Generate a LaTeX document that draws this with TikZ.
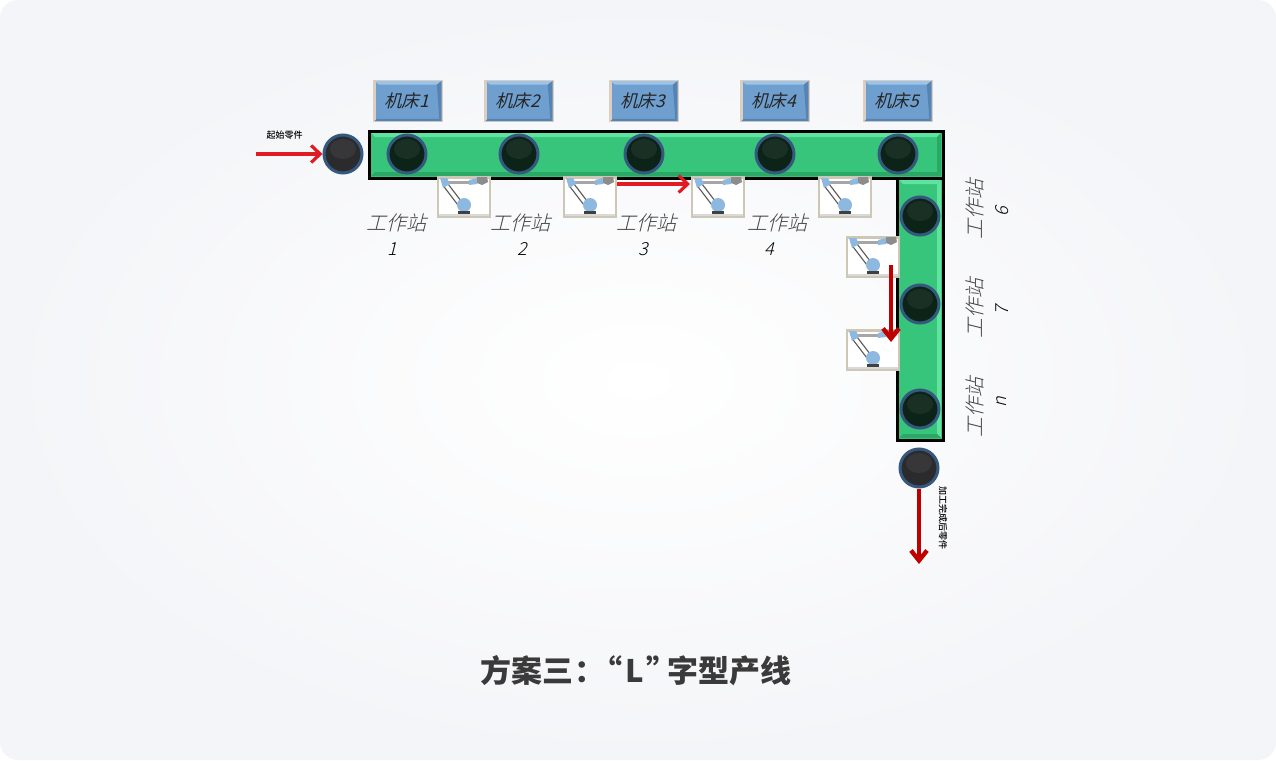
\documentclass[tikz,border=0pt]{standalone}
\usepackage{fontspec}
\usepackage{xcolor}
\usetikzlibrary{arrows.meta}
\newfontfamily\cjk{Noto Sans CJK SC}
\newfontfamily\cjkmedium{Noto Sans CJK SC Medium}
\newfontfamily\cjkslant[FakeSlant=0.25]{Noto Sans CJK SC}
\newfontfamily\cjkthin[FakeSlant=0.25]{Noto Sans CJK SC Light}
\definecolor{cardedge}{HTML}{F4F5F8}
\definecolor{beltgreen}{HTML}{37C57C}
\definecolor{beltlight}{HTML}{5FE39E}
\definecolor{beltdark}{HTML}{2CA866}
\definecolor{rimblue}{HTML}{35587F}
\definecolor{framebeige}{HTML}{DCCFC2}
\definecolor{framegrey}{HTML}{CDC7B6}
\definecolor{plateblue}{HTML}{6F9FCF}
\definecolor{platelight}{HTML}{9CC3E8}
\definecolor{platedark}{HTML}{5583B4}
\definecolor{armblue}{HTML}{8DB8DF}
\definecolor{linered}{HTML}{E01B22}
\definecolor{deepred}{HTML}{C00000}
\definecolor{titlegrey}{HTML}{3A3A3A}
\definecolor{lampgreen}{HTML}{0C2418}
\definecolor{lampgrey}{HTML}{2B2B2D}
\tikzset{
    lamp/.style={circle,
    draw=rimblue,
    line width=3pt,
    minimum size=38,
    inner sep=0pt,
    fill=#1,
    path picture={\fill[white,opacity=0.06] ([yshift=5]path picture bounding box.center) ellipse (13 and 10);}},
    machine/.style={draw=framebeige,
    line width=2.6pt,
    fill=plateblue,
    minimum width=67,
    minimum height=40,
    inner sep=0pt,
    text=black!85,
    font=\cjkslant\fontsize{17.5}{18}\selectfont},
    robotbox/.style={draw=framegrey,
    line width=2.6pt,
    fill=white,
    minimum width=52,
    minimum height=39,
    inner sep=0pt},
    stationtext/.style={text=black!75,
    inner sep=0pt,
    font=\cjkthin\fontsize{20}{20}\selectfont},
    stationnum/.style={text=black,
    inner sep=0pt,
    font=\cjkthin\fontsize{18}{18}\selectfont},
    smalltext/.style={inner sep=0pt,
    font=\cjkmedium\fontsize{9}{9}\selectfont},
    flow/.style={line width=3.4pt,-{Straight Barb[length=9,width=17,line width=3.2pt]}},
    deepflow/.style={line width=3.6pt,deepred,-{Straight Barb[length=10,width=16,line width=4.4pt]}},
    robot/.pic={
        \draw[black!35,line width=3pt] (-20,-15) -- (8,-15);
        \draw[black!65,line width=6pt] (-19,-13) -- (-3,8);
        \draw[white,line width=3.5pt] (-19,-13) -- (-3,8);
        \fill[armblue] (-24,-19) -- (-17,-19) -- (-14,-13) -- (-21,-9) -- cycle;
        \fill[armblue] (5,-17) -- (13,-19) -- (13,-13) -- (5,-12) -- cycle;
        \fill[black!45] (13,-20) -- (23,-20) -- (24,-15) -- (18,-12) -- (13,-14) -- cycle;
        \fill[armblue] (0,8) circle (7);
        \fill[black!75] (-6,14) rectangle (6,17);
        \draw[black!15,line width=1.5pt] (-25,18) -- (25,18);
    }
}
\begin{document}
\begin{tikzpicture}[x=1pt,y=-1pt]
    \useasboundingbox (0,0) rectangle (1276,760);
    \fill[white] (0,0) rectangle (1276,760);
    \shade[rounded corners=18,inner color=white,outer color=cardedge] (0,0) rectangle (1276,760);

    \draw[black,line width=3pt,fill=beltgreen] (369,131) rectangle (943,178);
    \fill[beltlight] (371,133) -- (941,133) -- (937,137) -- (375,137) -- cycle;
    \fill[beltdark] (371,176) -- (941,176) -- (937,172) -- (375,172) -- cycle;
    \fill[beltdark] (941,133) -- (941,176) -- (937,172) -- (937,137) -- cycle;
    \draw[black,line width=3pt,fill=beltgreen] (897,178) rectangle (943,440);
    \fill[beltlight] (899,180) -- (941,180) -- (937,184) -- (903,184) -- cycle;
    \fill[beltlight] (941,180) -- (941,438) -- (937,434) -- (937,184) -- cycle;
    \fill[beltdark] (899,438) -- (941,438) -- (937,434) -- (903,434) -- cycle;

    \foreach \name/\px/\py in {a1/407/154,a2/519/154,a3/644/154,a4/775/154,a5/898/154,b6/920/216,b7/920/304,bn/920/409}
        \node[lamp=lampgreen] (\name) at (\px,\py) {};
    \node[lamp=lampgrey] (start) at (343,154) {};
    \node[lamp=lampgrey] (finish) at (919,468) {};

    \foreach \name/\px/\txt in {m1/408/1,m2/519/2,m3/644/3,m4/775/4,m5/898/5} {
        \node[machine] (\name) at (\px,101) {};
        \fill[platelight] ([shift={(1.3,1.3)}]\name.north west) -- ([shift={(-1.3,1.3)}]\name.north east) -- ([shift={(-6,5)}]\name.north east) -- ([shift={(6,5)}]\name.north west) -- cycle;
        \fill[platedark] ([shift={(1.3,-1.3)}]\name.south west) -- ([shift={(-1.3,-1.3)}]\name.south east) -- ([shift={(-3.5,-3.5)}]\name.south east) -- ([shift={(3.5,-3.5)}]\name.south west) -- cycle;
        \fill[platedark] ([shift={(-1.3,1.3)}]\name.north east) -- ([shift={(-1.3,-1.3)}]\name.south east) -- ([shift={(-3.5,-3.5)}]\name.south east) -- ([shift={(-6,5)}]\name.north east) -- cycle;
        \node[machine,draw=none,fill=none,xshift=-1.5] at (\name) {机床\txt};
    }

    \foreach \name/\px/\py in {r1/464/197,r2/590/197,r3/718/197,r4/845/197,r5/873/257,r6/873/350} {
        \node[robotbox] (\name) at (\px,\py) {};
        \pic at (\name) {robot};
    }

    \foreach \txtx/\numx/\num in {396/392/1,520/522/2,646/643/3,777/769/4} {
        \node[stationtext] (lab\num) at (\txtx,223) {工作站};
        \node[stationnum] (num\num) at (\numx,249) {\num};
    }
    \foreach \txty/\numy/\num in {209/212/6,308/311/7,407/402/n} {
        \node[stationtext,rotate=90] (lab\num) at (975,\txty) {工作站};
        \node[stationnum,rotate=90] (num\num) at (1002,\numy) {\num};
    }

    \coordinate (infeed) at (256,154);
    \coordinate (hopfrom) at (617,184);
    \coordinate (hopto) at (690,184);
    \coordinate (dropfrom) at (891,265);
    \coordinate (dropto) at (891,342);
    \coordinate (outfeed) at (919,564);
    \draw[flow,linered] (infeed) -- (start.west);
    \draw[flow,linered] (hopfrom) -- (hopto);
    \draw[deepflow] (dropfrom) -- (dropto);
    \draw[deepflow] (finish.south) -- (outfeed);

    \node[smalltext] (startlab) at (284.5,135) {起始零件};
    \node[smalltext,rotate=-90] (endlab) at (943,518) {加工完成后零件};
    \node[inner sep=0pt,text=titlegrey,font=\cjk\bfseries\fontsize{31}{31}\selectfont] (title) at (636,671) {方案三\kern1pt：\kern-14pt“\kern3pt L\kern2pt”\kern-10pt字型产线};
\end{tikzpicture}
\end{document}
